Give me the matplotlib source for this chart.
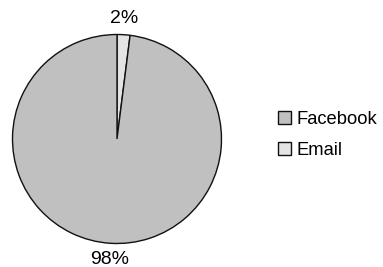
import matplotlib
matplotlib.use('Agg')
import matplotlib.pyplot as plt

plt.rcParams['font.family'] = ['Liberation Sans', 'DejaVu Sans']

labels = ['Email', 'Facebook']
values = [2, 98]
colors = ['#e4e4e4', '#c0c0c0']

fig = plt.figure(figsize=(3.83, 2.67), dpi=100)
ax = fig.add_axes([(117 - 104.5) / 383, (267 - 139 - 104.5) / 267, 209 / 383, 209 / 267])

wedges, texts, autotexts = ax.pie(values, colors=colors, startangle=90, counterclock=False,
                                  autopct='%.0f%%', pctdistance=1.16, radius=1,
                                  wedgeprops=dict(edgecolor='#111111', linewidth=1.0),
                                  textprops=dict(fontsize=14))
ax.set_xlim(-1, 1)
ax.set_ylim(-1, 1)
ax.set_aspect('equal')

# legend lists Facebook first
fig.legend([wedges[1], wedges[0]], [labels[1], labels[0]], loc='center left',
           bbox_to_anchor=(0.682, 0.495), frameon=False, fontsize=13.2,
           handlelength=0.7, handleheight=0.7, handletextpad=0.3, labelspacing=0.8)

fig.savefig('out.png', dpi=100)
